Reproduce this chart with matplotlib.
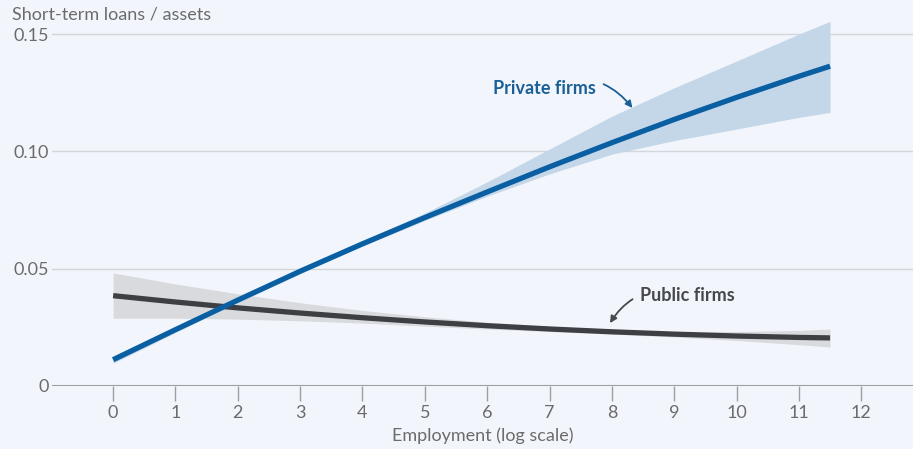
import matplotlib.pyplot as plt

# log employment positions
x_vals = [0, 1, 2, 3, 4, 5, 6, 7, 8, 9, 10, 11, 11.5]

private_mid = [0.0112, 0.0240, 0.0366, 0.0489, 0.0606, 0.0718, 0.0827, 0.0934,
               0.1037, 0.1136, 0.1230, 0.1320, 0.1363]
private_hi = [0.0127, 0.0252, 0.0376, 0.0499, 0.0618, 0.0737, 0.0870, 0.1010,
              0.1150, 0.1271, 0.1385, 0.1500, 0.1554]
private_lo = [0.0097, 0.0228, 0.0356, 0.0479, 0.0596, 0.0706, 0.0809, 0.0904,
              0.0988, 0.1046, 0.1095, 0.1145, 0.1166]

public_mid = [0.0385, 0.0358, 0.0333, 0.0311, 0.0291, 0.0273, 0.0257, 0.0243,
              0.0231, 0.0221, 0.0213, 0.0207, 0.0205]
public_hi = [0.0482, 0.0435, 0.0393, 0.0355, 0.0322, 0.0295, 0.0272, 0.0254,
             0.0241, 0.0233, 0.0232, 0.0237, 0.0243]
public_lo = [0.0289, 0.0289, 0.0285, 0.0278, 0.0268, 0.0255, 0.0243, 0.0232,
             0.0221, 0.0209, 0.0194, 0.0176, 0.0166]

x_ticks = list(range(0, 13))
y_ticks = [0, 0.05, 0.10, 0.15]
y_tick_labels = ['0', '0.05', '0.10', '0.15']

bg = '#f2f6fc'
txt = '#6b6b6b'
blue = '#0a5fa3'
dark = '#3d3f44'

plt.rcParams['font.family'] = ['Lato', 'DejaVu Sans']

fig = plt.figure(figsize=(9.13, 4.49), dpi=100, facecolor=bg)
ax = fig.add_axes([52 / 913, 63 / 449, 1 - 52 / 913, (386 - 10.6) / 449])
ax.set_facecolor(bg)

ax.fill_between(x_vals, public_lo, public_hi, color='#d8dadd', lw=0, zorder=2)
ax.fill_between(x_vals, private_lo, private_hi, color='#c3d7e8', lw=0, zorder=3)
ax.plot(x_vals, public_mid, color=dark, lw=3.8, solid_capstyle='butt', zorder=4)
ax.plot(x_vals, private_mid, color=blue, lw=3.8, solid_capstyle='butt', zorder=5)

ax.set_xlim(-0.98, 12.83)
ax.set_ylim(0, 0.16)

for y in y_ticks[1:]:
    ax.axhline(y, color='#d3d6db', lw=1, zorder=1)
ax.axhline(0, color='#9c9ea2', lw=1.5, zorder=1)

for s in ax.spines.values():
    s.set_visible(False)

ax.set_xticks(x_ticks)
ax.set_yticks(y_ticks)
ax.set_yticklabels(y_tick_labels)
ax.tick_params(axis='x', direction='out', length=11, width=1, color='#9c9ea2',
               labelsize=13, labelcolor=txt, pad=3)
ax.tick_params(axis='y', length=0, labelsize=13, labelcolor=txt, pad=2)

ax.set_xlabel('Employment (log scale)', fontsize=13, color=txt, labelpad=4)
fig.text(12 / 913, 1 - 14 / 449, 'Short-term loans / assets', fontsize=13,
         color=txt, ha='left', va='center')

ax.annotate('Private firms', xy=(8.33, 0.1185), xytext=(7.74, 0.127),
            fontsize=13, fontweight='bold', color='#1a5f95', ha='right', va='center',
            arrowprops=dict(arrowstyle='-|>', color='#1a5f95', lw=1.3,
                            connectionstyle='arc3,rad=-0.4', shrinkA=4, shrinkB=0,
                            mutation_scale=10))
ax.annotate('Public firms', xy=(7.97, 0.0268), xytext=(8.455, 0.0384),
            fontsize=13, fontweight='bold', color='#46484c', ha='left', va='center',
            arrowprops=dict(arrowstyle='-|>', color='#46484c', lw=1.3,
                            connectionstyle='arc3,rad=0.4', shrinkA=4, shrinkB=0,
                            mutation_scale=10))

fig.savefig('out.png', dpi=100, facecolor=bg)
